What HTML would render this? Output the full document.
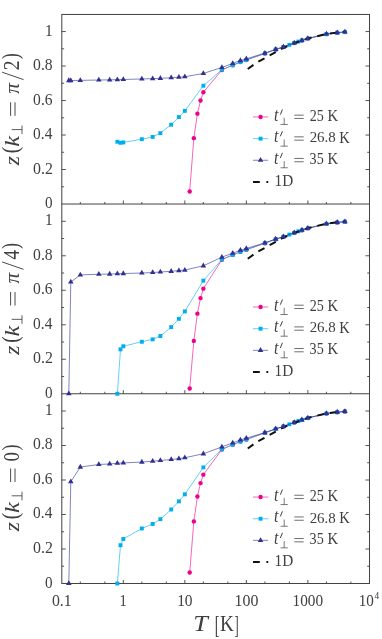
<!DOCTYPE html>
<html><head><meta charset="utf-8"><title>z(k) vs T</title>
<style>html,body{margin:0;padding:0;background:#fff;}body{width:382px;height:639px;overflow:hidden;font-family:"Liberation Serif",serif;}svg{display:block;will-change:transform;}</style>
</head><body>
<svg width="382" height="639" viewBox="0 0 382 639" font-family="'Liberation Serif', serif" fill="#404040">
<rect width="382" height="639" fill="#fff"/>
<path d="M61.8,204.03 H369.5" stroke="#424242" stroke-width="1" fill="none"/>
<path d="M80.32,204.03 v-2.0" stroke="#424242" stroke-width="0.9"/>
<path d="M104.80,204.03 v-2.0" stroke="#424242" stroke-width="0.9"/>
<path d="M123.32,204.03 v-3.6" stroke="#424242" stroke-width="0.9"/>
<path d="M141.84,204.03 v-2.0" stroke="#424242" stroke-width="0.9"/>
<path d="M166.32,204.03 v-2.0" stroke="#424242" stroke-width="0.9"/>
<path d="M184.84,204.03 v-3.6" stroke="#424242" stroke-width="0.9"/>
<path d="M203.36,204.03 v-2.0" stroke="#424242" stroke-width="0.9"/>
<path d="M227.84,204.03 v-2.0" stroke="#424242" stroke-width="0.9"/>
<path d="M246.36,204.03 v-3.6" stroke="#424242" stroke-width="0.9"/>
<path d="M264.88,204.03 v-2.0" stroke="#424242" stroke-width="0.9"/>
<path d="M289.36,204.03 v-2.0" stroke="#424242" stroke-width="0.9"/>
<path d="M307.88,204.03 v-3.6" stroke="#424242" stroke-width="0.9"/>
<path d="M326.40,204.03 v-2.0" stroke="#424242" stroke-width="0.9"/>
<path d="M350.88,204.03 v-2.0" stroke="#424242" stroke-width="0.9"/>
<path d="M61.8,186.78 h2.3" stroke="#424242" stroke-width="0.9"/>
<path d="M369.5,186.78 h-2.3" stroke="#424242" stroke-width="0.9"/>
<path d="M61.8,169.53 h4.0" stroke="#424242" stroke-width="0.9"/>
<path d="M369.5,169.53 h-4.0" stroke="#424242" stroke-width="0.9"/>
<path d="M61.8,152.29 h2.3" stroke="#424242" stroke-width="0.9"/>
<path d="M369.5,152.29 h-2.3" stroke="#424242" stroke-width="0.9"/>
<path d="M61.8,135.04 h4.0" stroke="#424242" stroke-width="0.9"/>
<path d="M369.5,135.04 h-4.0" stroke="#424242" stroke-width="0.9"/>
<path d="M61.8,117.79 h2.3" stroke="#424242" stroke-width="0.9"/>
<path d="M369.5,117.79 h-2.3" stroke="#424242" stroke-width="0.9"/>
<path d="M61.8,100.54 h4.0" stroke="#424242" stroke-width="0.9"/>
<path d="M369.5,100.54 h-4.0" stroke="#424242" stroke-width="0.9"/>
<path d="M61.8,83.29 h2.3" stroke="#424242" stroke-width="0.9"/>
<path d="M369.5,83.29 h-2.3" stroke="#424242" stroke-width="0.9"/>
<path d="M61.8,66.04 h4.0" stroke="#424242" stroke-width="0.9"/>
<path d="M369.5,66.04 h-4.0" stroke="#424242" stroke-width="0.9"/>
<path d="M61.8,48.80 h2.3" stroke="#424242" stroke-width="0.9"/>
<path d="M369.5,48.80 h-2.3" stroke="#424242" stroke-width="0.9"/>
<path d="M61.8,31.55 h4.0" stroke="#424242" stroke-width="0.9"/>
<path d="M369.5,31.55 h-4.0" stroke="#424242" stroke-width="0.9"/>
<text transform="translate(45.12,208.07) scale(0.7550,0.8002)" font-size="20">0</text>
<text transform="translate(33.09,173.51) scale(0.7953,0.7951)" font-size="20">0.2</text>
<text transform="translate(33.11,139.01) scale(0.7690,0.7951)" font-size="20">0.4</text>
<text transform="translate(33.11,104.52) scale(0.7783,0.7951)" font-size="20">0.6</text>
<text transform="translate(33.10,70.02) scale(0.7838,0.7951)" font-size="20">0.8</text>
<text transform="translate(44.95,35.75) scale(0.7669,0.8180)" font-size="20">1</text>
<path d="M61.8,393.76 H369.5" stroke="#424242" stroke-width="1" fill="none"/>
<path d="M80.32,393.76 v-2.0" stroke="#424242" stroke-width="0.9"/>
<path d="M104.80,393.76 v-2.0" stroke="#424242" stroke-width="0.9"/>
<path d="M123.32,393.76 v-3.6" stroke="#424242" stroke-width="0.9"/>
<path d="M141.84,393.76 v-2.0" stroke="#424242" stroke-width="0.9"/>
<path d="M166.32,393.76 v-2.0" stroke="#424242" stroke-width="0.9"/>
<path d="M184.84,393.76 v-3.6" stroke="#424242" stroke-width="0.9"/>
<path d="M203.36,393.76 v-2.0" stroke="#424242" stroke-width="0.9"/>
<path d="M227.84,393.76 v-2.0" stroke="#424242" stroke-width="0.9"/>
<path d="M246.36,393.76 v-3.6" stroke="#424242" stroke-width="0.9"/>
<path d="M264.88,393.76 v-2.0" stroke="#424242" stroke-width="0.9"/>
<path d="M289.36,393.76 v-2.0" stroke="#424242" stroke-width="0.9"/>
<path d="M307.88,393.76 v-3.6" stroke="#424242" stroke-width="0.9"/>
<path d="M326.40,393.76 v-2.0" stroke="#424242" stroke-width="0.9"/>
<path d="M350.88,393.76 v-2.0" stroke="#424242" stroke-width="0.9"/>
<path d="M61.8,376.51 h2.3" stroke="#424242" stroke-width="0.9"/>
<path d="M369.5,376.51 h-2.3" stroke="#424242" stroke-width="0.9"/>
<path d="M61.8,359.26 h4.0" stroke="#424242" stroke-width="0.9"/>
<path d="M369.5,359.26 h-4.0" stroke="#424242" stroke-width="0.9"/>
<path d="M61.8,342.02 h2.3" stroke="#424242" stroke-width="0.9"/>
<path d="M369.5,342.02 h-2.3" stroke="#424242" stroke-width="0.9"/>
<path d="M61.8,324.77 h4.0" stroke="#424242" stroke-width="0.9"/>
<path d="M369.5,324.77 h-4.0" stroke="#424242" stroke-width="0.9"/>
<path d="M61.8,307.52 h2.3" stroke="#424242" stroke-width="0.9"/>
<path d="M369.5,307.52 h-2.3" stroke="#424242" stroke-width="0.9"/>
<path d="M61.8,290.27 h4.0" stroke="#424242" stroke-width="0.9"/>
<path d="M369.5,290.27 h-4.0" stroke="#424242" stroke-width="0.9"/>
<path d="M61.8,273.02 h2.3" stroke="#424242" stroke-width="0.9"/>
<path d="M369.5,273.02 h-2.3" stroke="#424242" stroke-width="0.9"/>
<path d="M61.8,255.77 h4.0" stroke="#424242" stroke-width="0.9"/>
<path d="M369.5,255.77 h-4.0" stroke="#424242" stroke-width="0.9"/>
<path d="M61.8,238.53 h2.3" stroke="#424242" stroke-width="0.9"/>
<path d="M369.5,238.53 h-2.3" stroke="#424242" stroke-width="0.9"/>
<path d="M61.8,221.28 h4.0" stroke="#424242" stroke-width="0.9"/>
<path d="M369.5,221.28 h-4.0" stroke="#424242" stroke-width="0.9"/>
<text transform="translate(45.12,397.80) scale(0.7550,0.8002)" font-size="20">0</text>
<text transform="translate(33.09,363.24) scale(0.7953,0.7951)" font-size="20">0.2</text>
<text transform="translate(33.11,328.74) scale(0.7690,0.7951)" font-size="20">0.4</text>
<text transform="translate(33.11,294.25) scale(0.7783,0.7951)" font-size="20">0.6</text>
<text transform="translate(33.10,259.75) scale(0.7838,0.7951)" font-size="20">0.8</text>
<text transform="translate(44.95,225.48) scale(0.7669,0.8180)" font-size="20">1</text>
<path d="M80.32,583.49 v-2.0" stroke="#424242" stroke-width="0.9"/>
<path d="M104.80,583.49 v-2.0" stroke="#424242" stroke-width="0.9"/>
<path d="M123.32,583.49 v-3.6" stroke="#424242" stroke-width="0.9"/>
<path d="M141.84,583.49 v-2.0" stroke="#424242" stroke-width="0.9"/>
<path d="M166.32,583.49 v-2.0" stroke="#424242" stroke-width="0.9"/>
<path d="M184.84,583.49 v-3.6" stroke="#424242" stroke-width="0.9"/>
<path d="M203.36,583.49 v-2.0" stroke="#424242" stroke-width="0.9"/>
<path d="M227.84,583.49 v-2.0" stroke="#424242" stroke-width="0.9"/>
<path d="M246.36,583.49 v-3.6" stroke="#424242" stroke-width="0.9"/>
<path d="M264.88,583.49 v-2.0" stroke="#424242" stroke-width="0.9"/>
<path d="M289.36,583.49 v-2.0" stroke="#424242" stroke-width="0.9"/>
<path d="M307.88,583.49 v-3.6" stroke="#424242" stroke-width="0.9"/>
<path d="M326.40,583.49 v-2.0" stroke="#424242" stroke-width="0.9"/>
<path d="M350.88,583.49 v-2.0" stroke="#424242" stroke-width="0.9"/>
<path d="M61.8,566.24 h2.3" stroke="#424242" stroke-width="0.9"/>
<path d="M369.5,566.24 h-2.3" stroke="#424242" stroke-width="0.9"/>
<path d="M61.8,548.99 h4.0" stroke="#424242" stroke-width="0.9"/>
<path d="M369.5,548.99 h-4.0" stroke="#424242" stroke-width="0.9"/>
<path d="M61.8,531.75 h2.3" stroke="#424242" stroke-width="0.9"/>
<path d="M369.5,531.75 h-2.3" stroke="#424242" stroke-width="0.9"/>
<path d="M61.8,514.50 h4.0" stroke="#424242" stroke-width="0.9"/>
<path d="M369.5,514.50 h-4.0" stroke="#424242" stroke-width="0.9"/>
<path d="M61.8,497.25 h2.3" stroke="#424242" stroke-width="0.9"/>
<path d="M369.5,497.25 h-2.3" stroke="#424242" stroke-width="0.9"/>
<path d="M61.8,480.00 h4.0" stroke="#424242" stroke-width="0.9"/>
<path d="M369.5,480.00 h-4.0" stroke="#424242" stroke-width="0.9"/>
<path d="M61.8,462.75 h2.3" stroke="#424242" stroke-width="0.9"/>
<path d="M369.5,462.75 h-2.3" stroke="#424242" stroke-width="0.9"/>
<path d="M61.8,445.50 h4.0" stroke="#424242" stroke-width="0.9"/>
<path d="M369.5,445.50 h-4.0" stroke="#424242" stroke-width="0.9"/>
<path d="M61.8,428.26 h2.3" stroke="#424242" stroke-width="0.9"/>
<path d="M369.5,428.26 h-2.3" stroke="#424242" stroke-width="0.9"/>
<path d="M61.8,411.01 h4.0" stroke="#424242" stroke-width="0.9"/>
<path d="M369.5,411.01 h-4.0" stroke="#424242" stroke-width="0.9"/>
<text transform="translate(45.12,587.53) scale(0.7550,0.8002)" font-size="20">0</text>
<text transform="translate(33.09,552.97) scale(0.7953,0.7951)" font-size="20">0.2</text>
<text transform="translate(33.11,518.47) scale(0.7690,0.7951)" font-size="20">0.4</text>
<text transform="translate(33.11,483.98) scale(0.7783,0.7951)" font-size="20">0.6</text>
<text transform="translate(33.10,449.48) scale(0.7838,0.7951)" font-size="20">0.8</text>
<text transform="translate(44.95,415.21) scale(0.7669,0.8180)" font-size="20">1</text>
<rect x="61.8" y="14.45" width="307.70" height="569.04" fill="none" stroke="#424242" stroke-width="1"/>
<path d="M189.71,191.44 L193.83,138.14 L197.40,113.65 L200.54,100.54 L203.36,92.26 L221.88,70.01 L232.71,65.18 L240.40,62.08 L246.36,60.01 L264.88,53.45 L275.71,49.49 L283.40,47.07 L294.23,43.10 L301.92,40.52 L307.88,38.62 L326.40,34.14 L337.23,32.76 L344.92,32.07" fill="none" stroke="#ec008c" stroke-width="0.6"/>
<circle cx="189.71" cy="191.44" r="2.2" fill="#ec008c"/>
<circle cx="193.83" cy="138.14" r="2.2" fill="#ec008c"/>
<circle cx="197.40" cy="113.65" r="2.2" fill="#ec008c"/>
<circle cx="200.54" cy="100.54" r="2.2" fill="#ec008c"/>
<circle cx="203.36" cy="92.26" r="2.2" fill="#ec008c"/>
<circle cx="221.88" cy="70.01" r="2.2" fill="#ec008c"/>
<circle cx="232.71" cy="65.18" r="2.2" fill="#ec008c"/>
<circle cx="240.40" cy="62.08" r="2.2" fill="#ec008c"/>
<circle cx="246.36" cy="60.01" r="2.2" fill="#ec008c"/>
<circle cx="264.88" cy="53.45" r="2.2" fill="#ec008c"/>
<circle cx="275.71" cy="49.49" r="2.2" fill="#ec008c"/>
<circle cx="283.40" cy="47.07" r="2.2" fill="#ec008c"/>
<circle cx="294.23" cy="43.10" r="2.2" fill="#ec008c"/>
<circle cx="301.92" cy="40.52" r="2.2" fill="#ec008c"/>
<circle cx="307.88" cy="38.62" r="2.2" fill="#ec008c"/>
<circle cx="326.40" cy="34.14" r="2.2" fill="#ec008c"/>
<circle cx="337.23" cy="32.76" r="2.2" fill="#ec008c"/>
<circle cx="344.92" cy="32.07" r="2.2" fill="#ec008c"/>
<path d="M117.36,141.76 L120.50,142.80 L123.32,142.45 L141.84,139.18 L152.67,136.93 L160.36,133.14 L171.19,124.69 L178.88,117.10 L184.84,110.89 L203.36,85.71 L221.88,69.67 L232.71,65.18 L240.40,62.08 L246.36,60.01 L264.88,53.45 L275.71,49.49 L283.40,47.07 L289.36,44.83 L294.23,43.10 L298.35,41.55 L301.92,40.52 L307.88,38.62 L326.40,34.14 L337.23,32.76 L344.92,32.07" fill="none" stroke="#00aeef" stroke-width="0.6"/>
<rect x="115.41" y="139.81" width="3.9" height="3.9" fill="#00aeef"/>
<rect x="118.55" y="140.85" width="3.9" height="3.9" fill="#00aeef"/>
<rect x="121.37" y="140.50" width="3.9" height="3.9" fill="#00aeef"/>
<rect x="139.89" y="137.23" width="3.9" height="3.9" fill="#00aeef"/>
<rect x="150.72" y="134.98" width="3.9" height="3.9" fill="#00aeef"/>
<rect x="158.41" y="131.19" width="3.9" height="3.9" fill="#00aeef"/>
<rect x="169.24" y="122.74" width="3.9" height="3.9" fill="#00aeef"/>
<rect x="176.93" y="115.15" width="3.9" height="3.9" fill="#00aeef"/>
<rect x="182.89" y="108.94" width="3.9" height="3.9" fill="#00aeef"/>
<rect x="201.41" y="83.76" width="3.9" height="3.9" fill="#00aeef"/>
<rect x="219.93" y="67.72" width="3.9" height="3.9" fill="#00aeef"/>
<rect x="230.76" y="63.23" width="3.9" height="3.9" fill="#00aeef"/>
<rect x="238.45" y="60.13" width="3.9" height="3.9" fill="#00aeef"/>
<rect x="244.41" y="58.06" width="3.9" height="3.9" fill="#00aeef"/>
<rect x="262.93" y="51.50" width="3.9" height="3.9" fill="#00aeef"/>
<rect x="273.76" y="47.54" width="3.9" height="3.9" fill="#00aeef"/>
<rect x="281.45" y="45.12" width="3.9" height="3.9" fill="#00aeef"/>
<rect x="287.41" y="42.88" width="3.9" height="3.9" fill="#00aeef"/>
<rect x="292.28" y="41.15" width="3.9" height="3.9" fill="#00aeef"/>
<rect x="296.40" y="39.60" width="3.9" height="3.9" fill="#00aeef"/>
<rect x="299.97" y="38.57" width="3.9" height="3.9" fill="#00aeef"/>
<rect x="305.93" y="36.67" width="3.9" height="3.9" fill="#00aeef"/>
<rect x="324.45" y="32.19" width="3.9" height="3.9" fill="#00aeef"/>
<rect x="335.28" y="30.81" width="3.9" height="3.9" fill="#00aeef"/>
<rect x="342.97" y="30.12" width="3.9" height="3.9" fill="#00aeef"/>
<path d="M68.81,80.53 L70.79,80.53 L80.32,80.36 L98.84,80.02 L109.67,79.84 L117.36,79.67 L123.32,79.50 L141.84,78.98 L152.67,78.64 L160.36,78.29 L171.19,77.77 L178.88,77.26 L184.84,76.74 L203.36,73.46 L221.88,67.42 L232.71,63.46 L240.40,60.53 L246.36,58.80 L264.88,53.11 L275.71,49.31 L283.40,46.90 L294.23,42.93 L301.92,40.34 L307.88,38.45 L326.40,33.96 L337.23,32.58 L344.92,31.89" fill="none" stroke="#2e3192" stroke-width="0.6"/>
<path d="M247.74,68.98 L257.19,62.25 L264.88,58.11 L275.71,52.07 L283.40,47.93 L294.23,43.28 L301.92,40.52 L307.88,38.45 L326.40,33.96 L337.23,32.58 L344.92,31.89" fill="none" stroke="#111" stroke-width="2" stroke-dasharray="7.0,5.9"/>
<path d="M68.81,77.33 L71.58,82.13 L66.04,82.13 Z" fill="#2e3192"/>
<path d="M70.79,77.33 L73.56,82.13 L68.02,82.13 Z" fill="#2e3192"/>
<path d="M80.32,77.16 L83.09,81.96 L77.55,81.96 Z" fill="#2e3192"/>
<path d="M98.84,76.82 L101.61,81.62 L96.07,81.62 Z" fill="#2e3192"/>
<path d="M109.67,76.64 L112.44,81.44 L106.90,81.44 Z" fill="#2e3192"/>
<path d="M117.36,76.47 L120.13,81.27 L114.59,81.27 Z" fill="#2e3192"/>
<path d="M123.32,76.30 L126.09,81.10 L120.55,81.10 Z" fill="#2e3192"/>
<path d="M141.84,75.78 L144.61,80.58 L139.07,80.58 Z" fill="#2e3192"/>
<path d="M152.67,75.44 L155.44,80.24 L149.90,80.24 Z" fill="#2e3192"/>
<path d="M160.36,75.09 L163.13,79.89 L157.59,79.89 Z" fill="#2e3192"/>
<path d="M171.19,74.57 L173.96,79.37 L168.42,79.37 Z" fill="#2e3192"/>
<path d="M178.88,74.06 L181.65,78.86 L176.11,78.86 Z" fill="#2e3192"/>
<path d="M184.84,73.54 L187.61,78.34 L182.07,78.34 Z" fill="#2e3192"/>
<path d="M203.36,70.26 L206.13,75.06 L200.59,75.06 Z" fill="#2e3192"/>
<path d="M221.88,64.22 L224.65,69.02 L219.11,69.02 Z" fill="#2e3192"/>
<path d="M232.71,60.26 L235.48,65.06 L229.94,65.06 Z" fill="#2e3192"/>
<path d="M240.40,57.33 L243.17,62.13 L237.63,62.13 Z" fill="#2e3192"/>
<path d="M246.36,55.60 L249.13,60.40 L243.59,60.40 Z" fill="#2e3192"/>
<path d="M264.88,49.91 L267.65,54.71 L262.11,54.71 Z" fill="#2e3192"/>
<path d="M275.71,46.11 L278.48,50.91 L272.94,50.91 Z" fill="#2e3192"/>
<path d="M283.40,43.70 L286.17,48.50 L280.63,48.50 Z" fill="#2e3192"/>
<path d="M294.23,39.73 L297.00,44.53 L291.46,44.53 Z" fill="#2e3192"/>
<path d="M301.92,37.14 L304.69,41.94 L299.15,41.94 Z" fill="#2e3192"/>
<path d="M307.88,35.25 L310.65,40.05 L305.11,40.05 Z" fill="#2e3192"/>
<path d="M326.40,30.76 L329.17,35.56 L323.63,35.56 Z" fill="#2e3192"/>
<path d="M337.23,29.38 L340.00,34.18 L334.46,34.18 Z" fill="#2e3192"/>
<path d="M344.92,28.69 L347.69,33.49 L342.15,33.49 Z" fill="#2e3192"/>
<path d="M253.0,116.95 H268.2" stroke="#ec008c" stroke-width="0.6"/>
<circle cx="260.55" cy="116.95" r="2.2" fill="#ec008c"/>
<path d="M253.0,138.65 H268.2" stroke="#00aeef" stroke-width="0.6"/>
<rect x="258.60" y="136.70" width="3.9" height="3.9" fill="#00aeef"/>
<path d="M253.0,160.25 H268.2" stroke="#2e3192" stroke-width="0.6"/>
<path d="M260.55,157.05 L263.32,161.85 L257.78,161.85 Z" fill="#2e3192"/>
<path d="M253.0,182.00 H268.2" stroke="#111" stroke-width="2" stroke-dasharray="6.8,6.6"/>
<text transform="translate(274.11,120.68) scale(0.7877,0.8904)" font-size="20" font-style="italic">t</text>
<path d="M282.3,109.85 L280.5,114.25" stroke="#404040" stroke-width="1" stroke-linecap="round"/>
<path d="M280.6,124.45 H287.8 M284.2,124.45 V117.75" stroke="#404040" stroke-width="0.7" fill="none"/>
<path d="M294.3,115.15 H303.7 M294.3,118.45 H303.7" stroke="#404040" stroke-width="0.75" fill="none"/>
<text transform="translate(309.68,120.80) scale(0.7034,0.7888)" font-size="20">25</text>
<text transform="translate(327.48,120.85) scale(0.7320,0.7942)" font-size="20">K</text>
<text transform="translate(274.11,142.38) scale(0.7877,0.8904)" font-size="20" font-style="italic">t</text>
<path d="M282.3,131.55 L280.5,135.95" stroke="#404040" stroke-width="1" stroke-linecap="round"/>
<path d="M280.6,146.15 H287.8 M284.2,146.15 V139.45" stroke="#404040" stroke-width="0.7" fill="none"/>
<path d="M294.3,136.85 H303.7 M294.3,140.15 H303.7" stroke="#404040" stroke-width="0.75" fill="none"/>
<text transform="translate(309.64,142.43) scale(0.7464,0.7803)" font-size="20">26.8</text>
<text transform="translate(339.28,142.55) scale(0.7246,0.7942)" font-size="20">K</text>
<text transform="translate(274.11,163.98) scale(0.7877,0.8904)" font-size="20" font-style="italic">t</text>
<path d="M282.3,153.15 L280.5,157.55" stroke="#404040" stroke-width="1" stroke-linecap="round"/>
<path d="M280.6,167.75 H287.8 M284.2,167.75 V161.05" stroke="#404040" stroke-width="0.7" fill="none"/>
<path d="M294.3,158.45 H303.7 M294.3,161.75 H303.7" stroke="#404040" stroke-width="0.75" fill="none"/>
<text transform="translate(309.62,164.10) scale(0.7064,0.7888)" font-size="20">35</text>
<text transform="translate(327.48,164.15) scale(0.7320,0.7942)" font-size="20">K</text>
<text transform="translate(274.56,185.77) scale(0.7631,0.7854)" font-size="20">1D</text>
<path d="M189.71,388.50 L193.83,340.89 L197.40,313.64 L200.54,298.12 L203.36,288.63 L221.88,259.74 L232.71,254.91 L240.40,251.81 L246.36,249.74 L264.88,243.18 L275.71,239.22 L283.40,236.80 L294.23,232.83 L301.92,230.25 L307.88,228.35 L326.40,223.87 L337.23,222.49 L344.92,221.80" fill="none" stroke="#ec008c" stroke-width="0.6"/>
<circle cx="189.71" cy="388.50" r="2.2" fill="#ec008c"/>
<circle cx="193.83" cy="340.89" r="2.2" fill="#ec008c"/>
<circle cx="197.40" cy="313.64" r="2.2" fill="#ec008c"/>
<circle cx="200.54" cy="298.12" r="2.2" fill="#ec008c"/>
<circle cx="203.36" cy="288.63" r="2.2" fill="#ec008c"/>
<circle cx="221.88" cy="259.74" r="2.2" fill="#ec008c"/>
<circle cx="232.71" cy="254.91" r="2.2" fill="#ec008c"/>
<circle cx="240.40" cy="251.81" r="2.2" fill="#ec008c"/>
<circle cx="246.36" cy="249.74" r="2.2" fill="#ec008c"/>
<circle cx="264.88" cy="243.18" r="2.2" fill="#ec008c"/>
<circle cx="275.71" cy="239.22" r="2.2" fill="#ec008c"/>
<circle cx="283.40" cy="236.80" r="2.2" fill="#ec008c"/>
<circle cx="294.23" cy="232.83" r="2.2" fill="#ec008c"/>
<circle cx="301.92" cy="230.25" r="2.2" fill="#ec008c"/>
<circle cx="307.88" cy="228.35" r="2.2" fill="#ec008c"/>
<circle cx="326.40" cy="223.87" r="2.2" fill="#ec008c"/>
<circle cx="337.23" cy="222.49" r="2.2" fill="#ec008c"/>
<circle cx="344.92" cy="221.80" r="2.2" fill="#ec008c"/>
<path d="M117.36,393.76 L120.50,349.35 L123.32,346.24 L141.84,341.76 L152.67,339.34 L160.36,336.06 L171.19,327.10 L178.88,318.82 L184.84,311.40 L203.36,280.70 L221.88,259.40 L232.71,254.91 L240.40,251.81 L246.36,249.74 L264.88,243.18 L275.71,239.22 L283.40,236.80 L289.36,234.56 L294.23,232.83 L298.35,231.28 L301.92,230.25 L307.88,228.35 L326.40,223.87 L337.23,222.49 L344.92,221.80" fill="none" stroke="#00aeef" stroke-width="0.6"/>
<rect x="115.41" y="391.81" width="3.9" height="3.9" fill="#00aeef"/>
<rect x="118.55" y="347.40" width="3.9" height="3.9" fill="#00aeef"/>
<rect x="121.37" y="344.29" width="3.9" height="3.9" fill="#00aeef"/>
<rect x="139.89" y="339.81" width="3.9" height="3.9" fill="#00aeef"/>
<rect x="150.72" y="337.39" width="3.9" height="3.9" fill="#00aeef"/>
<rect x="158.41" y="334.11" width="3.9" height="3.9" fill="#00aeef"/>
<rect x="169.24" y="325.15" width="3.9" height="3.9" fill="#00aeef"/>
<rect x="176.93" y="316.87" width="3.9" height="3.9" fill="#00aeef"/>
<rect x="182.89" y="309.45" width="3.9" height="3.9" fill="#00aeef"/>
<rect x="201.41" y="278.75" width="3.9" height="3.9" fill="#00aeef"/>
<rect x="219.93" y="257.45" width="3.9" height="3.9" fill="#00aeef"/>
<rect x="230.76" y="252.96" width="3.9" height="3.9" fill="#00aeef"/>
<rect x="238.45" y="249.86" width="3.9" height="3.9" fill="#00aeef"/>
<rect x="244.41" y="247.79" width="3.9" height="3.9" fill="#00aeef"/>
<rect x="262.93" y="241.23" width="3.9" height="3.9" fill="#00aeef"/>
<rect x="273.76" y="237.27" width="3.9" height="3.9" fill="#00aeef"/>
<rect x="281.45" y="234.85" width="3.9" height="3.9" fill="#00aeef"/>
<rect x="287.41" y="232.61" width="3.9" height="3.9" fill="#00aeef"/>
<rect x="292.28" y="230.88" width="3.9" height="3.9" fill="#00aeef"/>
<rect x="296.40" y="229.33" width="3.9" height="3.9" fill="#00aeef"/>
<rect x="299.97" y="228.30" width="3.9" height="3.9" fill="#00aeef"/>
<rect x="305.93" y="226.40" width="3.9" height="3.9" fill="#00aeef"/>
<rect x="324.45" y="221.92" width="3.9" height="3.9" fill="#00aeef"/>
<rect x="335.28" y="220.54" width="3.9" height="3.9" fill="#00aeef"/>
<rect x="342.97" y="219.85" width="3.9" height="3.9" fill="#00aeef"/>
<path d="M68.81,393.76 L70.79,281.99 L80.32,274.92 L98.84,274.23 L109.67,274.06 L117.36,273.71 L123.32,273.54 L141.84,273.02 L152.67,272.51 L160.36,271.99 L171.19,271.30 L178.88,270.61 L184.84,270.09 L203.36,265.78 L221.88,257.15 L232.71,253.19 L240.40,250.26 L246.36,248.53 L264.88,242.84 L275.71,239.04 L283.40,236.63 L294.23,232.66 L301.92,230.07 L307.88,228.18 L326.40,223.69 L337.23,222.31 L344.92,221.62" fill="none" stroke="#2e3192" stroke-width="0.6"/>
<path d="M247.74,258.71 L257.19,251.98 L264.88,247.84 L275.71,241.80 L283.40,237.66 L294.23,233.01 L301.92,230.25 L307.88,228.18 L326.40,223.69 L337.23,222.31 L344.92,221.62" fill="none" stroke="#111" stroke-width="2" stroke-dasharray="7.0,5.9"/>
<path d="M68.81,390.56 L71.58,395.36 L66.04,395.36 Z" fill="#2e3192"/>
<path d="M70.79,278.79 L73.56,283.59 L68.02,283.59 Z" fill="#2e3192"/>
<path d="M80.32,271.72 L83.09,276.52 L77.55,276.52 Z" fill="#2e3192"/>
<path d="M98.84,271.03 L101.61,275.83 L96.07,275.83 Z" fill="#2e3192"/>
<path d="M109.67,270.86 L112.44,275.66 L106.90,275.66 Z" fill="#2e3192"/>
<path d="M117.36,270.51 L120.13,275.31 L114.59,275.31 Z" fill="#2e3192"/>
<path d="M123.32,270.34 L126.09,275.14 L120.55,275.14 Z" fill="#2e3192"/>
<path d="M141.84,269.82 L144.61,274.62 L139.07,274.62 Z" fill="#2e3192"/>
<path d="M152.67,269.31 L155.44,274.11 L149.90,274.11 Z" fill="#2e3192"/>
<path d="M160.36,268.79 L163.13,273.59 L157.59,273.59 Z" fill="#2e3192"/>
<path d="M171.19,268.10 L173.96,272.90 L168.42,272.90 Z" fill="#2e3192"/>
<path d="M178.88,267.41 L181.65,272.21 L176.11,272.21 Z" fill="#2e3192"/>
<path d="M184.84,266.89 L187.61,271.69 L182.07,271.69 Z" fill="#2e3192"/>
<path d="M203.36,262.58 L206.13,267.38 L200.59,267.38 Z" fill="#2e3192"/>
<path d="M221.88,253.95 L224.65,258.75 L219.11,258.75 Z" fill="#2e3192"/>
<path d="M232.71,249.99 L235.48,254.79 L229.94,254.79 Z" fill="#2e3192"/>
<path d="M240.40,247.06 L243.17,251.86 L237.63,251.86 Z" fill="#2e3192"/>
<path d="M246.36,245.33 L249.13,250.13 L243.59,250.13 Z" fill="#2e3192"/>
<path d="M264.88,239.64 L267.65,244.44 L262.11,244.44 Z" fill="#2e3192"/>
<path d="M275.71,235.84 L278.48,240.64 L272.94,240.64 Z" fill="#2e3192"/>
<path d="M283.40,233.43 L286.17,238.23 L280.63,238.23 Z" fill="#2e3192"/>
<path d="M294.23,229.46 L297.00,234.26 L291.46,234.26 Z" fill="#2e3192"/>
<path d="M301.92,226.87 L304.69,231.67 L299.15,231.67 Z" fill="#2e3192"/>
<path d="M307.88,224.98 L310.65,229.78 L305.11,229.78 Z" fill="#2e3192"/>
<path d="M326.40,220.49 L329.17,225.29 L323.63,225.29 Z" fill="#2e3192"/>
<path d="M337.23,219.11 L340.00,223.91 L334.46,223.91 Z" fill="#2e3192"/>
<path d="M344.92,218.42 L347.69,223.22 L342.15,223.22 Z" fill="#2e3192"/>
<path d="M253.0,307.00 H268.2" stroke="#ec008c" stroke-width="0.6"/>
<circle cx="260.55" cy="307.00" r="2.2" fill="#ec008c"/>
<path d="M253.0,328.70 H268.2" stroke="#00aeef" stroke-width="0.6"/>
<rect x="258.60" y="326.75" width="3.9" height="3.9" fill="#00aeef"/>
<path d="M253.0,350.30 H268.2" stroke="#2e3192" stroke-width="0.6"/>
<path d="M260.55,347.10 L263.32,351.90 L257.78,351.90 Z" fill="#2e3192"/>
<path d="M253.0,372.05 H268.2" stroke="#111" stroke-width="2" stroke-dasharray="6.8,6.6"/>
<text transform="translate(274.11,310.73) scale(0.7877,0.8904)" font-size="20" font-style="italic">t</text>
<path d="M282.3,299.90 L280.5,304.30" stroke="#404040" stroke-width="1" stroke-linecap="round"/>
<path d="M280.6,314.50 H287.8 M284.2,314.50 V307.80" stroke="#404040" stroke-width="0.7" fill="none"/>
<path d="M294.3,305.20 H303.7 M294.3,308.50 H303.7" stroke="#404040" stroke-width="0.75" fill="none"/>
<text transform="translate(309.68,310.85) scale(0.7034,0.7888)" font-size="20">25</text>
<text transform="translate(327.48,310.90) scale(0.7320,0.7942)" font-size="20">K</text>
<text transform="translate(274.11,332.43) scale(0.7877,0.8904)" font-size="20" font-style="italic">t</text>
<path d="M282.3,321.60 L280.5,326.00" stroke="#404040" stroke-width="1" stroke-linecap="round"/>
<path d="M280.6,336.20 H287.8 M284.2,336.20 V329.50" stroke="#404040" stroke-width="0.7" fill="none"/>
<path d="M294.3,326.90 H303.7 M294.3,330.20 H303.7" stroke="#404040" stroke-width="0.75" fill="none"/>
<text transform="translate(309.64,332.48) scale(0.7464,0.7803)" font-size="20">26.8</text>
<text transform="translate(339.28,332.60) scale(0.7246,0.7942)" font-size="20">K</text>
<text transform="translate(274.11,354.03) scale(0.7877,0.8904)" font-size="20" font-style="italic">t</text>
<path d="M282.3,343.20 L280.5,347.60" stroke="#404040" stroke-width="1" stroke-linecap="round"/>
<path d="M280.6,357.80 H287.8 M284.2,357.80 V351.10" stroke="#404040" stroke-width="0.7" fill="none"/>
<path d="M294.3,348.50 H303.7 M294.3,351.80 H303.7" stroke="#404040" stroke-width="0.75" fill="none"/>
<text transform="translate(309.62,354.15) scale(0.7064,0.7888)" font-size="20">35</text>
<text transform="translate(327.48,354.20) scale(0.7320,0.7942)" font-size="20">K</text>
<text transform="translate(274.56,375.82) scale(0.7631,0.7854)" font-size="20">1D</text>
<path d="M189.71,572.45 L193.83,521.40 L197.40,496.56 L200.54,483.11 L203.36,474.65 L221.88,449.47 L232.71,444.64 L240.40,441.54 L246.36,439.47 L264.88,432.91 L275.71,428.95 L283.40,426.53 L294.23,422.56 L301.92,419.98 L307.88,418.08 L326.40,413.60 L337.23,412.22 L344.92,411.53" fill="none" stroke="#ec008c" stroke-width="0.6"/>
<circle cx="189.71" cy="572.45" r="2.2" fill="#ec008c"/>
<circle cx="193.83" cy="521.40" r="2.2" fill="#ec008c"/>
<circle cx="197.40" cy="496.56" r="2.2" fill="#ec008c"/>
<circle cx="200.54" cy="483.11" r="2.2" fill="#ec008c"/>
<circle cx="203.36" cy="474.65" r="2.2" fill="#ec008c"/>
<circle cx="221.88" cy="449.47" r="2.2" fill="#ec008c"/>
<circle cx="232.71" cy="444.64" r="2.2" fill="#ec008c"/>
<circle cx="240.40" cy="441.54" r="2.2" fill="#ec008c"/>
<circle cx="246.36" cy="439.47" r="2.2" fill="#ec008c"/>
<circle cx="264.88" cy="432.91" r="2.2" fill="#ec008c"/>
<circle cx="275.71" cy="428.95" r="2.2" fill="#ec008c"/>
<circle cx="283.40" cy="426.53" r="2.2" fill="#ec008c"/>
<circle cx="294.23" cy="422.56" r="2.2" fill="#ec008c"/>
<circle cx="301.92" cy="419.98" r="2.2" fill="#ec008c"/>
<circle cx="307.88" cy="418.08" r="2.2" fill="#ec008c"/>
<circle cx="326.40" cy="413.60" r="2.2" fill="#ec008c"/>
<circle cx="337.23" cy="412.22" r="2.2" fill="#ec008c"/>
<circle cx="344.92" cy="411.53" r="2.2" fill="#ec008c"/>
<path d="M117.36,583.49 L120.50,545.20 L123.32,538.99 L141.84,528.47 L152.67,523.98 L160.36,519.15 L171.19,509.50 L178.88,501.39 L184.84,494.32 L203.36,467.41 L221.88,449.13 L232.71,444.64 L240.40,441.54 L246.36,439.47 L264.88,432.91 L275.71,428.95 L283.40,426.53 L289.36,424.29 L294.23,422.56 L298.35,421.01 L301.92,419.98 L307.88,418.08 L326.40,413.60 L337.23,412.22 L344.92,411.53" fill="none" stroke="#00aeef" stroke-width="0.6"/>
<rect x="115.41" y="581.54" width="3.9" height="3.9" fill="#00aeef"/>
<rect x="118.55" y="543.25" width="3.9" height="3.9" fill="#00aeef"/>
<rect x="121.37" y="537.04" width="3.9" height="3.9" fill="#00aeef"/>
<rect x="139.89" y="526.52" width="3.9" height="3.9" fill="#00aeef"/>
<rect x="150.72" y="522.03" width="3.9" height="3.9" fill="#00aeef"/>
<rect x="158.41" y="517.20" width="3.9" height="3.9" fill="#00aeef"/>
<rect x="169.24" y="507.55" width="3.9" height="3.9" fill="#00aeef"/>
<rect x="176.93" y="499.44" width="3.9" height="3.9" fill="#00aeef"/>
<rect x="182.89" y="492.37" width="3.9" height="3.9" fill="#00aeef"/>
<rect x="201.41" y="465.46" width="3.9" height="3.9" fill="#00aeef"/>
<rect x="219.93" y="447.18" width="3.9" height="3.9" fill="#00aeef"/>
<rect x="230.76" y="442.69" width="3.9" height="3.9" fill="#00aeef"/>
<rect x="238.45" y="439.59" width="3.9" height="3.9" fill="#00aeef"/>
<rect x="244.41" y="437.52" width="3.9" height="3.9" fill="#00aeef"/>
<rect x="262.93" y="430.96" width="3.9" height="3.9" fill="#00aeef"/>
<rect x="273.76" y="427.00" width="3.9" height="3.9" fill="#00aeef"/>
<rect x="281.45" y="424.58" width="3.9" height="3.9" fill="#00aeef"/>
<rect x="287.41" y="422.34" width="3.9" height="3.9" fill="#00aeef"/>
<rect x="292.28" y="420.61" width="3.9" height="3.9" fill="#00aeef"/>
<rect x="296.40" y="419.06" width="3.9" height="3.9" fill="#00aeef"/>
<rect x="299.97" y="418.03" width="3.9" height="3.9" fill="#00aeef"/>
<rect x="305.93" y="416.13" width="3.9" height="3.9" fill="#00aeef"/>
<rect x="324.45" y="411.65" width="3.9" height="3.9" fill="#00aeef"/>
<rect x="335.28" y="410.27" width="3.9" height="3.9" fill="#00aeef"/>
<rect x="342.97" y="409.58" width="3.9" height="3.9" fill="#00aeef"/>
<path d="M68.81,583.49 L70.79,481.73 L80.32,467.06 L98.84,464.48 L109.67,463.96 L117.36,463.27 L123.32,462.93 L141.84,462.06 L152.67,461.20 L160.36,460.51 L171.19,459.48 L178.88,458.61 L184.84,457.75 L203.36,453.78 L221.88,446.88 L232.71,442.92 L240.40,439.99 L246.36,438.26 L264.88,432.57 L275.71,428.77 L283.40,426.36 L294.23,422.39 L301.92,419.80 L307.88,417.91 L326.40,413.42 L337.23,412.04 L344.92,411.35" fill="none" stroke="#2e3192" stroke-width="0.6"/>
<path d="M247.74,448.44 L257.19,441.71 L264.88,437.57 L275.71,431.53 L283.40,427.39 L294.23,422.74 L301.92,419.98 L307.88,417.91 L326.40,413.42 L337.23,412.04 L344.92,411.35" fill="none" stroke="#111" stroke-width="2" stroke-dasharray="7.0,5.9"/>
<path d="M68.81,580.29 L71.58,585.09 L66.04,585.09 Z" fill="#2e3192"/>
<path d="M70.79,478.53 L73.56,483.33 L68.02,483.33 Z" fill="#2e3192"/>
<path d="M80.32,463.86 L83.09,468.66 L77.55,468.66 Z" fill="#2e3192"/>
<path d="M98.84,461.28 L101.61,466.08 L96.07,466.08 Z" fill="#2e3192"/>
<path d="M109.67,460.76 L112.44,465.56 L106.90,465.56 Z" fill="#2e3192"/>
<path d="M117.36,460.07 L120.13,464.87 L114.59,464.87 Z" fill="#2e3192"/>
<path d="M123.32,459.73 L126.09,464.53 L120.55,464.53 Z" fill="#2e3192"/>
<path d="M141.84,458.86 L144.61,463.66 L139.07,463.66 Z" fill="#2e3192"/>
<path d="M152.67,458.00 L155.44,462.80 L149.90,462.80 Z" fill="#2e3192"/>
<path d="M160.36,457.31 L163.13,462.11 L157.59,462.11 Z" fill="#2e3192"/>
<path d="M171.19,456.28 L173.96,461.08 L168.42,461.08 Z" fill="#2e3192"/>
<path d="M178.88,455.41 L181.65,460.21 L176.11,460.21 Z" fill="#2e3192"/>
<path d="M184.84,454.55 L187.61,459.35 L182.07,459.35 Z" fill="#2e3192"/>
<path d="M203.36,450.58 L206.13,455.38 L200.59,455.38 Z" fill="#2e3192"/>
<path d="M221.88,443.68 L224.65,448.48 L219.11,448.48 Z" fill="#2e3192"/>
<path d="M232.71,439.72 L235.48,444.52 L229.94,444.52 Z" fill="#2e3192"/>
<path d="M240.40,436.79 L243.17,441.59 L237.63,441.59 Z" fill="#2e3192"/>
<path d="M246.36,435.06 L249.13,439.86 L243.59,439.86 Z" fill="#2e3192"/>
<path d="M264.88,429.37 L267.65,434.17 L262.11,434.17 Z" fill="#2e3192"/>
<path d="M275.71,425.57 L278.48,430.37 L272.94,430.37 Z" fill="#2e3192"/>
<path d="M283.40,423.16 L286.17,427.96 L280.63,427.96 Z" fill="#2e3192"/>
<path d="M294.23,419.19 L297.00,423.99 L291.46,423.99 Z" fill="#2e3192"/>
<path d="M301.92,416.60 L304.69,421.40 L299.15,421.40 Z" fill="#2e3192"/>
<path d="M307.88,414.71 L310.65,419.51 L305.11,419.51 Z" fill="#2e3192"/>
<path d="M326.40,410.22 L329.17,415.02 L323.63,415.02 Z" fill="#2e3192"/>
<path d="M337.23,408.84 L340.00,413.64 L334.46,413.64 Z" fill="#2e3192"/>
<path d="M344.92,408.15 L347.69,412.95 L342.15,412.95 Z" fill="#2e3192"/>
<path d="M253.0,497.05 H268.2" stroke="#ec008c" stroke-width="0.6"/>
<circle cx="260.55" cy="497.05" r="2.2" fill="#ec008c"/>
<path d="M253.0,518.75 H268.2" stroke="#00aeef" stroke-width="0.6"/>
<rect x="258.60" y="516.80" width="3.9" height="3.9" fill="#00aeef"/>
<path d="M253.0,540.35 H268.2" stroke="#2e3192" stroke-width="0.6"/>
<path d="M260.55,537.15 L263.32,541.95 L257.78,541.95 Z" fill="#2e3192"/>
<path d="M253.0,562.10 H268.2" stroke="#111" stroke-width="2" stroke-dasharray="6.8,6.6"/>
<text transform="translate(274.11,500.78) scale(0.7877,0.8904)" font-size="20" font-style="italic">t</text>
<path d="M282.3,489.95 L280.5,494.35" stroke="#404040" stroke-width="1" stroke-linecap="round"/>
<path d="M280.6,504.55 H287.8 M284.2,504.55 V497.85" stroke="#404040" stroke-width="0.7" fill="none"/>
<path d="M294.3,495.25 H303.7 M294.3,498.55 H303.7" stroke="#404040" stroke-width="0.75" fill="none"/>
<text transform="translate(309.68,500.90) scale(0.7034,0.7888)" font-size="20">25</text>
<text transform="translate(327.48,500.95) scale(0.7320,0.7942)" font-size="20">K</text>
<text transform="translate(274.11,522.48) scale(0.7877,0.8904)" font-size="20" font-style="italic">t</text>
<path d="M282.3,511.65 L280.5,516.05" stroke="#404040" stroke-width="1" stroke-linecap="round"/>
<path d="M280.6,526.25 H287.8 M284.2,526.25 V519.55" stroke="#404040" stroke-width="0.7" fill="none"/>
<path d="M294.3,516.95 H303.7 M294.3,520.25 H303.7" stroke="#404040" stroke-width="0.75" fill="none"/>
<text transform="translate(309.64,522.53) scale(0.7464,0.7803)" font-size="20">26.8</text>
<text transform="translate(339.28,522.65) scale(0.7246,0.7942)" font-size="20">K</text>
<text transform="translate(274.11,544.08) scale(0.7877,0.8904)" font-size="20" font-style="italic">t</text>
<path d="M282.3,533.25 L280.5,537.65" stroke="#404040" stroke-width="1" stroke-linecap="round"/>
<path d="M280.6,547.85 H287.8 M284.2,547.85 V541.15" stroke="#404040" stroke-width="0.7" fill="none"/>
<path d="M294.3,538.55 H303.7 M294.3,541.85 H303.7" stroke="#404040" stroke-width="0.75" fill="none"/>
<text transform="translate(309.62,544.20) scale(0.7064,0.7888)" font-size="20">35</text>
<text transform="translate(327.48,544.25) scale(0.7320,0.7942)" font-size="20">K</text>
<text transform="translate(274.56,565.87) scale(0.7631,0.7854)" font-size="20">1D</text>
<text transform="translate(51.90,605.57) scale(0.7900,0.8245)" font-size="20">0.1</text>
<text transform="translate(119.53,605.80) scale(0.7243,0.8483)" font-size="20">1</text>
<text transform="translate(177.14,605.64) scale(0.7723,0.8299)" font-size="20">10</text>
<text transform="translate(234.60,605.64) scale(0.7969,0.8299)" font-size="20">100</text>
<text transform="translate(292.55,605.64) scale(0.7657,0.8299)" font-size="20">1000</text>
<text transform="translate(358.67,605.64) scale(0.7551,0.8299)" font-size="20">10</text>
<text transform="translate(374.42,598.50) scale(0.4625,0.5393)" font-size="20">4</text>
<text transform="translate(193.19,630.90) scale(1.3096,1.1225)" font-size="20" font-style="italic">T</text>
<text transform="translate(214.73,632.79) scale(0.7186,1.3110)" font-size="20">[</text>
<text transform="translate(219.95,630.90) scale(0.9589,1.1072)" font-size="20">K</text>
<text transform="translate(234.55,632.79) scale(0.6288,1.3110)" font-size="20">]</text>
<g transform="translate(0,166.00) rotate(-90)">
<text transform="translate(0.87,18.60) scale(1.1880,1.0131)" font-size="20" font-style="italic">z</text>
<text transform="translate(12.86,18.28) scale(0.9539,1.1801)" font-size="20">(</text>
<text transform="translate(19.20,18.60) scale(1.2218,1.0953)" font-size="20" font-style="italic">k</text>
<path d="M36.4,11.7 V22.0 M31.9,22.0 H40.5" stroke="#404040" stroke-width="0.85" fill="none"/>
<path d="M50.2,10.6 H63.7 M50.2,15.0 H63.7" stroke="#404040" stroke-width="0.95" fill="none"/>
<text transform="translate(72.19,18.60) scale(1.0703,1.0240)" font-size="20" font-style="italic">π</text>
<path d="M86.4,23.5 L93.8,2.1" stroke="#404040" stroke-width="0.95" fill="none"/>
<text transform="translate(95.83,18.60) scale(0.9853,1.1176)" font-size="20">2</text>
<text transform="translate(106.95,18.28) scale(0.8566,1.1801)" font-size="20">)</text>
</g>
<g transform="translate(0,355.73) rotate(-90)">
<text transform="translate(0.87,18.60) scale(1.1880,1.0131)" font-size="20" font-style="italic">z</text>
<text transform="translate(12.86,18.28) scale(0.9539,1.1801)" font-size="20">(</text>
<text transform="translate(19.20,18.60) scale(1.2218,1.0953)" font-size="20" font-style="italic">k</text>
<path d="M36.4,11.7 V22.0 M31.9,22.0 H40.5" stroke="#404040" stroke-width="0.85" fill="none"/>
<path d="M50.2,10.6 H63.7 M50.2,15.0 H63.7" stroke="#404040" stroke-width="0.95" fill="none"/>
<text transform="translate(72.19,18.60) scale(1.0703,1.0240)" font-size="20" font-style="italic">π</text>
<path d="M86.4,23.5 L93.8,2.1" stroke="#404040" stroke-width="0.95" fill="none"/>
<text transform="translate(96.13,18.60) scale(0.9573,1.1243)" font-size="20">4</text>
<text transform="translate(106.95,18.28) scale(0.8566,1.1801)" font-size="20">)</text>
</g>
<g transform="translate(0,532.20) rotate(-90)">
<text transform="translate(0.87,18.60) scale(1.1880,1.0131)" font-size="20" font-style="italic">z</text>
<text transform="translate(12.86,18.28) scale(0.9539,1.1801)" font-size="20">(</text>
<text transform="translate(19.20,18.60) scale(1.2218,1.0953)" font-size="20" font-style="italic">k</text>
<path d="M36.4,11.7 V22.0 M31.9,22.0 H40.5" stroke="#404040" stroke-width="0.85" fill="none"/>
<path d="M50.2,10.6 H63.7 M50.2,15.0 H63.7" stroke="#404040" stroke-width="0.95" fill="none"/>
<text transform="translate(70.78,18.58) scale(0.9438,1.1114)" font-size="20">0</text>
<text transform="translate(81.82,18.28) scale(0.8955,1.1801)" font-size="20">)</text>
</g>
</svg>
</body></html>
